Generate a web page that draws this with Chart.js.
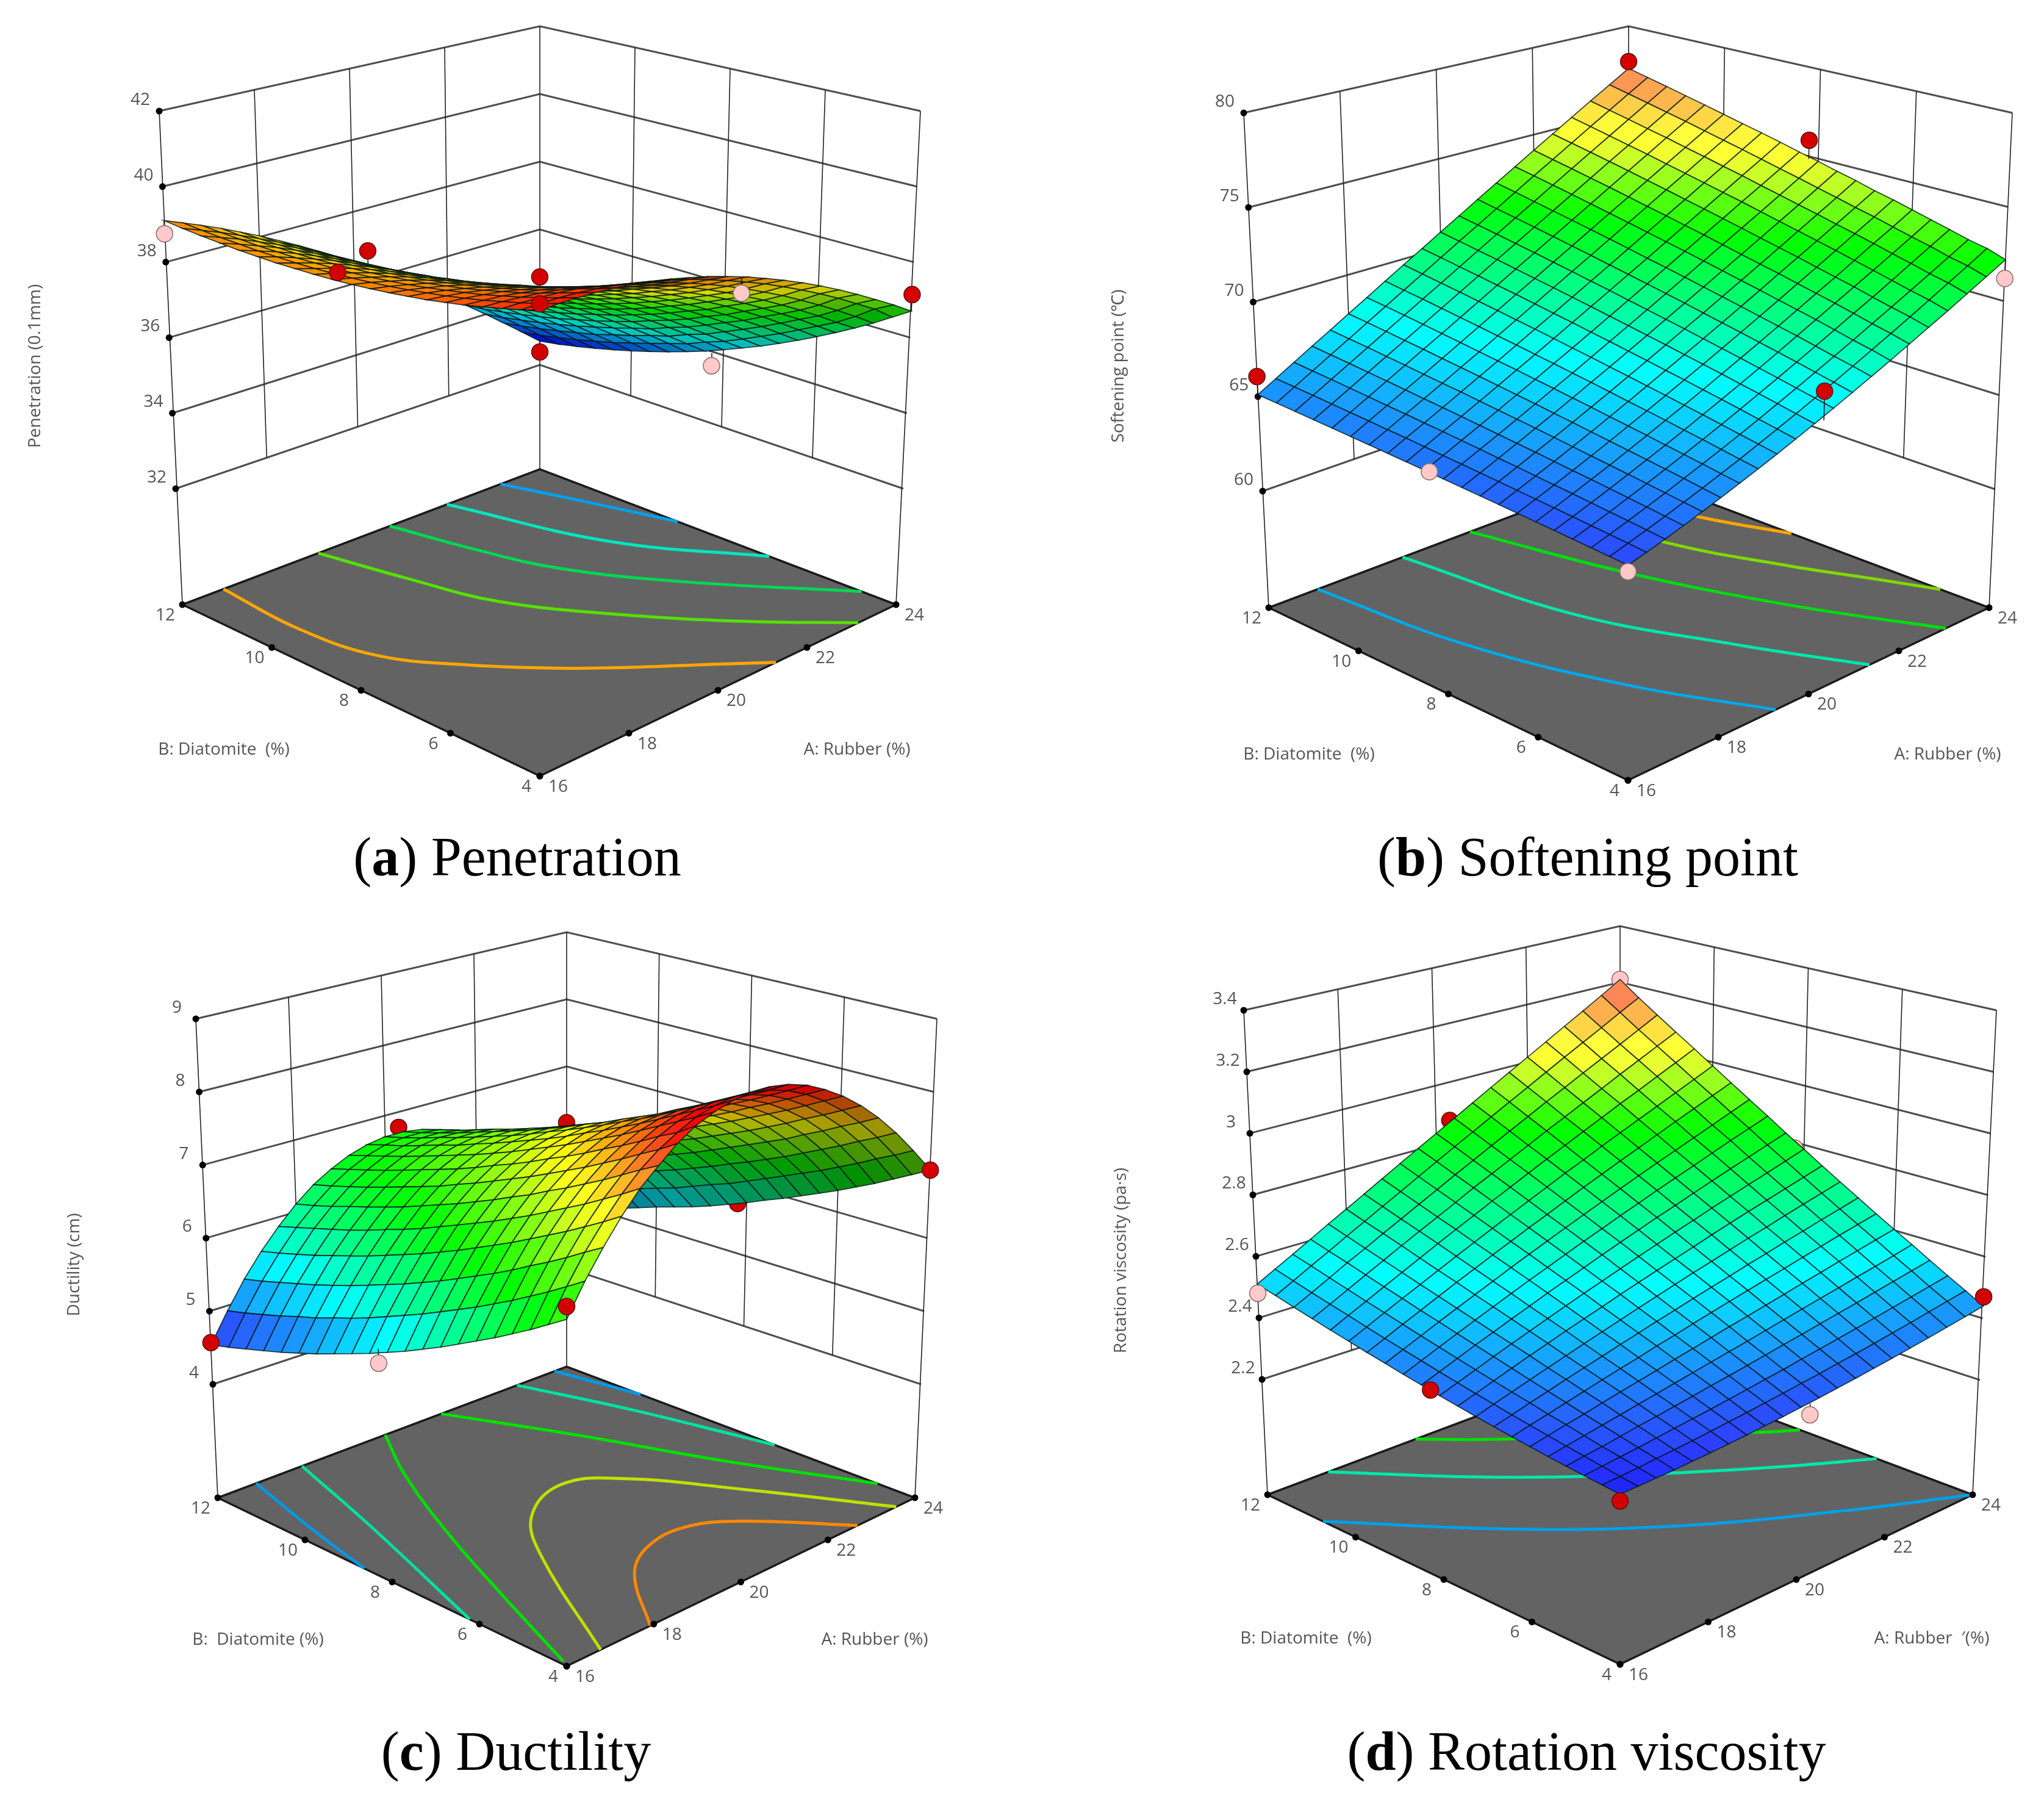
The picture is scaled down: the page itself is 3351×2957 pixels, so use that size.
<!DOCTYPE html>
<html>
<head>
<meta charset="utf-8">
<title>Response surfaces</title>
<script src="https://cdn.jsdelivr.net/npm/chart.js@4/dist/chart.umd.min.js"></script>
<style>
  html, body { margin: 0; background: #fff; }
  #page { position: relative; width: 3351px; height: 2957px; overflow: hidden; background: #fff; }
  canvas { position: absolute; }
  .cap { position: absolute; transform: translate(-50%, -50%); font: 90px "Liberation Serif", serif; color: #000; white-space: nowrap; }
</style>
</head>
<body>
<div id="page">
  <canvas id="pa" width="1675" height="1480" style="left:0;top:0"></canvas>
  <canvas id="pb" width="1676" height="1480" style="left:1675px;top:0"></canvas>
  <canvas id="pc" width="1675" height="1477" style="left:0;top:1480px"></canvas>
  <canvas id="pd" width="1676" height="1477" style="left:1675px;top:1480px"></canvas>
  <div class="cap" style="left:848px;top:1404px">(<b>a</b>) Penetration</div>
  <div class="cap" style="left:2603px;top:1404px">(<b>b</b>) Softening point</div>
  <div class="cap" style="left:846px;top:2870px">(<b>c</b>) Ductility</div>
  <div class="cap" style="left:2601px;top:2870px">(<b>d</b>) Rotation viscosity</div>
</div>
<script>
// axis ticks shared by all four plots
const rubberTicks = [16, 18, 20, 22, 24];
const diatomiteTicks = [4, 6, 8, 10, 12];

const penetrationTicks = [32, 34, 36, 38, 40, 42];
const softeningTicks = [60, 65, 70, 75, 80];
const ductilityTicks = [4, 5, 6, 7, 8, 9];
const viscosityTicks = [2.2, 2.4, 2.6, 2.8, 3, 3.2, 3.4];

// response surfaces, one row per diatomite step (4 to 12), 21 rubber steps (16 to 24) in each row
const penetration = [
  [40.00,40.02,40.01,39.99,39.95,39.89,39.81,39.71,39.59,39.46,39.30,39.13,38.93,38.72,38.49,38.24,37.97,37.68,37.37,37.05,36.70],
  [39.87,39.87,39.86,39.83,39.78,39.71,39.62,39.51,39.39,39.25,39.08,38.90,38.70,38.49,38.25,38.00,37.73,37.44,37.12,36.80,36.40],
  [39.75,39.74,39.72,39.69,39.64,39.53,39.43,39.32,39.18,39.03,38.85,38.66,38.45,38.22,37.97,37.71,37.42,37.12,36.80,36.46,36.10],
  [39.64,39.62,39.58,39.53,39.46,39.37,39.25,39.12,38.99,38.82,38.64,38.44,38.22,37.98,37.72,37.45,37.15,36.84,36.51,36.16,35.82],
  [39.53,39.50,39.46,39.39,39.31,39.21,39.09,38.95,38.81,38.63,38.44,38.23,38.00,37.76,37.50,37.22,36.92,36.60,36.27,35.91,35.55],
  [39.44,39.40,39.34,39.27,39.17,39.07,38.94,38.79,38.64,38.45,38.26,38.04,37.80,37.55,37.28,37.00,36.69,36.37,36.02,35.66,35.29],
  [39.35,39.30,39.24,39.15,39.05,38.93,38.79,38.64,38.47,38.28,38.07,37.84,37.60,37.34,37.06,36.76,36.45,36.12,35.78,35.41,35.04],
  [39.28,39.22,39.14,39.04,38.93,38.80,38.66,38.49,38.31,38.11,37.90,37.67,37.42,37.15,36.87,36.57,36.25,35.91,35.55,35.18,34.80],
  [39.21,39.14,39.05,38.95,38.83,38.69,38.53,38.37,38.17,37.96,37.74,37.50,37.24,36.96,36.67,36.36,36.03,35.69,35.33,34.95,34.57],
  [39.15,39.07,38.97,38.86,38.73,38.58,38.42,38.24,38.04,37.82,37.59,37.34,37.08,36.79,36.49,36.17,35.84,35.48,35.11,34.73,34.36],
  [39.10,39.01,38.90,38.78,38.64,38.48,38.31,38.12,37.91,37.69,37.45,37.19,36.92,36.63,36.32,36.00,35.67,35.31,34.94,34.55,34.15],
  [39.06,38.96,38.84,38.71,38.56,38.39,38.21,38.01,37.80,37.57,37.32,37.05,36.77,36.48,36.16,35.83,35.48,35.11,34.73,34.34,33.95],
  [39.03,38.92,38.79,38.65,38.49,38.31,38.12,37.92,37.69,37.45,37.20,36.93,36.64,36.34,36.02,35.69,35.33,34.97,34.59,34.19,33.77],
  [39.01,38.88,38.75,38.60,38.43,38.24,38.04,37.82,37.59,37.35,37.08,36.80,36.51,36.20,35.88,35.54,35.18,34.81,34.42,34.02,33.60],
  [38.99,38.86,38.72,38.56,38.38,38.19,37.98,37.75,37.52,37.26,36.99,36.71,36.41,36.09,35.76,35.41,35.05,34.67,34.28,33.87,33.44],
  [38.99,38.85,38.69,38.52,38.34,38.13,37.91,37.68,37.44,37.17,36.90,36.61,36.30,35.97,35.64,35.28,34.91,34.53,34.12,33.71,33.29],
  [38.99,38.84,38.68,38.50,38.30,38.09,37.87,37.63,37.37,37.10,36.82,36.52,36.21,35.88,35.53,35.17,34.80,34.41,34.00,33.58,33.15],
  [39.01,38.85,38.67,38.49,38.28,38.06,37.83,37.58,37.31,37.04,36.75,36.44,36.12,35.78,35.43,35.07,34.69,34.29,33.88,33.45,33.02],
  [39.03,38.86,38.68,38.48,38.27,38.04,37.80,37.54,37.27,36.99,36.69,36.38,36.05,35.70,35.35,34.98,34.59,34.19,33.77,33.34,32.90],
  [39.06,38.88,38.69,38.48,38.26,38.03,37.78,37.51,37.23,36.94,36.64,36.32,35.98,35.63,35.27,34.89,34.50,34.09,33.67,33.23,32.79],
  [39.10,38.91,38.71,38.50,38.27,38.03,37.77,37.50,37.21,36.91,36.60,36.27,35.93,35.58,35.21,34.83,34.43,34.02,33.59,33.15,32.70]
];

const softening = [
  [63.50,63.77,64.06,64.37,64.70,65.04,65.40,65.77,66.16,66.57,67.00,67.44,67.90,68.38,68.87,69.39,69.92,70.46,71.03,71.61,72.20],
  [63.58,63.87,64.17,64.49,64.83,65.18,65.55,65.93,66.34,66.76,67.19,67.65,68.12,68.61,69.12,69.64,70.18,70.74,71.32,71.91,72.53],
  [63.66,63.96,64.28,64.61,64.96,65.33,65.71,66.10,66.51,66.94,67.39,67.85,68.33,68.82,69.33,69.86,70.40,70.96,71.53,72.12,72.73],
  [63.74,64.05,64.38,64.73,65.09,65.47,65.86,66.27,66.69,67.13,67.59,68.06,68.55,69.05,69.57,70.11,70.64,71.21,71.80,72.40,73.00],
  [63.82,64.15,64.49,64.85,65.22,65.61,66.01,66.43,66.87,67.32,67.78,68.26,68.76,69.28,69.81,70.35,70.90,71.46,72.04,72.64,73.26],
  [63.90,64.24,64.60,64.97,65.35,65.75,66.17,66.60,67.04,67.50,67.98,68.47,68.97,69.49,70.03,70.58,71.13,71.71,72.31,72.90,73.53],
  [63.98,64.33,64.70,65.08,65.48,65.89,66.32,66.76,67.22,67.69,68.17,68.67,69.18,69.71,70.25,70.81,71.37,71.96,72.56,73.17,73.80],
  [64.06,64.43,64.81,65.20,65.61,66.03,66.47,66.92,67.39,67.87,68.36,68.87,69.39,69.93,70.48,71.05,71.62,72.20,72.80,73.41,74.03],
  [64.14,64.52,64.92,65.33,65.75,66.18,66.63,67.09,67.57,68.06,68.56,69.08,69.60,70.15,70.70,71.27,71.85,72.45,73.06,73.68,74.32],
  [64.22,64.61,65.02,65.44,65.88,66.32,66.78,67.26,67.74,68.24,68.75,69.28,69.82,70.37,70.93,71.50,72.09,72.69,73.30,73.93,74.57],
  [64.30,64.71,65.13,65.56,66.01,66.47,66.94,67.42,67.92,68.43,68.95,69.48,70.03,70.59,71.16,71.74,72.34,72.94,73.56,74.20,74.85],
  [64.38,64.80,65.24,65.68,66.14,66.61,67.09,67.59,68.09,68.61,69.14,69.68,70.24,70.81,71.39,71.98,72.58,73.20,73.81,74.45,75.10],
  [64.46,64.90,65.35,65.80,66.27,66.75,67.25,67.75,68.27,68.80,69.34,69.89,70.45,71.02,71.61,72.21,72.82,73.44,74.08,74.72,75.38],
  [64.54,65.00,65.45,65.92,66.41,66.90,67.40,67.92,68.45,68.98,69.53,70.09,70.66,71.25,71.84,72.45,73.06,73.69,74.33,74.98,75.65],
  [64.62,65.08,65.56,66.04,66.53,67.04,67.55,68.08,68.62,69.17,69.73,70.30,70.88,71.47,72.07,72.68,73.31,73.94,74.59,75.24,75.90],
  [64.70,65.18,65.66,66.16,66.66,67.18,67.71,68.25,68.80,69.36,69.92,70.50,71.09,71.69,72.30,72.92,73.55,74.19,74.84,75.50,76.17],
  [64.78,65.27,65.77,66.28,66.80,67.33,67.86,68.41,68.97,69.54,70.12,70.71,71.30,71.91,72.53,73.16,73.80,74.45,75.11,75.77,76.44],
  [64.86,65.36,65.88,66.40,66.93,67.47,68.02,68.58,69.15,69.73,70.32,70.91,71.52,72.13,72.76,73.39,74.04,74.69,75.35,76.02,76.70],
  [64.94,65.46,65.99,66.52,67.07,67.62,68.18,68.75,69.32,69.91,70.51,71.12,71.73,72.35,72.99,73.63,74.28,74.94,75.61,76.28,76.97],
  [65.02,65.55,66.09,66.64,67.19,67.76,68.33,68.91,69.50,70.10,70.71,71.32,71.94,72.58,73.22,73.86,74.52,75.19,75.86,76.54,77.23],
  [65.10,65.64,66.20,66.76,67.32,67.90,68.48,69.08,69.68,70.28,70.90,71.52,72.16,72.80,73.44,74.10,74.76,75.44,76.12,76.80,77.50]
];

const ductility = [
  [6.76,7.15,7.49,7.80,8.07,8.28,8.48,8.63,8.73,8.80,8.83,8.82,8.77,8.68,8.54,8.37,8.16,7.91,7.62,7.29,6.93],
  [6.61,7.00,7.35,7.65,7.92,8.15,8.33,8.47,8.59,8.66,8.69,8.68,8.63,8.54,8.41,8.24,8.03,7.78,7.49,7.16,6.80],
  [6.46,6.85,7.20,7.51,7.78,8.01,8.20,8.35,8.46,8.53,8.56,8.55,8.50,8.41,8.28,8.11,7.90,7.66,7.37,7.04,6.67],
  [6.32,6.71,7.06,7.37,7.64,7.87,8.06,8.21,8.33,8.40,8.43,8.42,8.37,8.28,8.15,7.98,7.78,7.53,7.24,6.91,6.54],
  [6.18,6.57,6.93,7.24,7.51,7.74,7.93,8.08,8.20,8.27,8.30,8.29,8.24,8.16,8.03,7.86,7.65,7.41,7.12,6.79,6.42],
  [6.05,6.44,6.79,7.11,7.38,7.61,7.80,7.96,8.07,8.14,8.17,8.17,8.12,8.03,7.90,7.74,7.53,7.28,7.00,6.67,6.30],
  [5.92,6.31,6.66,6.98,7.25,7.49,7.68,7.83,7.95,8.02,8.05,8.04,8.00,7.91,7.78,7.62,7.41,7.17,6.88,6.56,6.19],
  [5.79,6.19,6.54,6.86,7.13,7.36,7.56,7.71,7.83,7.90,7.94,7.93,7.88,7.80,7.67,7.51,7.30,7.06,6.77,6.45,6.08],
  [5.67,6.07,6.42,6.74,7.01,7.25,7.44,7.60,7.71,7.79,7.82,7.82,7.77,7.69,7.56,7.40,7.19,6.95,6.66,6.34,5.97],
  [5.55,5.95,6.30,6.62,6.90,7.13,7.33,7.48,7.60,7.67,7.71,7.70,7.66,7.58,7.45,7.29,7.08,6.84,6.56,6.23,5.87],
  [5.44,5.84,6.19,6.51,6.79,7.02,7.22,7.37,7.49,7.56,7.60,7.60,7.55,7.47,7.34,7.18,6.98,6.73,6.45,6.12,5.76],
  [5.33,5.73,6.08,6.40,6.68,6.91,7.11,7.27,7.38,7.46,7.50,7.49,7.45,7.37,7.24,7.08,6.87,6.63,6.35,6.03,5.66],
  [5.23,5.62,5.98,6.30,6.57,6.81,7.01,7.16,7.28,7.36,7.39,7.39,7.35,7.26,7.14,6.98,6.77,6.53,6.25,5.93,5.56],
  [5.13,5.52,5.88,6.20,6.47,6.71,6.90,7.06,7.18,7.26,7.29,7.29,7.25,7.17,7.05,6.88,6.68,6.43,6.16,5.83,5.47],
  [5.03,5.43,5.78,6.10,6.38,6.61,6.81,6.97,7.09,7.17,7.20,7.20,7.16,7.08,6.96,6.80,6.59,6.35,6.07,5.75,5.39],
  [4.94,5.33,5.69,6.01,6.28,6.52,6.72,6.88,7.00,7.07,7.11,7.11,7.07,6.99,6.87,6.71,6.50,6.26,5.98,5.66,5.31],
  [4.85,5.25,5.60,5.92,6.19,6.43,6.63,6.79,6.91,6.99,7.02,7.02,6.99,6.91,6.78,6.62,6.42,6.18,5.90,5.58,5.22],
  [4.77,5.16,5.52,5.83,6.11,6.35,6.54,6.70,6.82,6.90,6.94,6.93,6.90,6.82,6.70,6.54,6.33,6.09,5.82,5.50,5.13],
  [4.69,5.08,5.44,5.75,6.03,6.26,6.46,6.62,6.74,6.81,6.85,6.85,6.81,6.73,6.62,6.46,6.26,6.02,5.74,5.43,5.05],
  [4.61,5.00,5.36,5.67,5.95,6.18,6.38,6.54,6.66,6.74,6.77,6.77,6.74,6.66,6.54,6.39,6.18,5.95,5.67,5.36,4.99],
  [4.54,4.93,5.29,5.60,5.87,6.11,6.31,6.46,6.58,6.66,6.70,6.70,6.66,6.58,6.47,6.31,6.11,5.88,5.61,5.29,4.94]
];

const viscosity = [
  [2.320,2.321,2.323,2.325,2.328,2.331,2.335,2.339,2.344,2.349,2.355,2.361,2.368,2.375,2.383,2.391,2.400,2.409,2.419,2.429,2.440],
  [2.325,2.328,2.332,2.337,2.341,2.346,2.352,2.358,2.364,2.371,2.378,2.386,2.393,2.402,2.410,2.419,2.429,2.439,2.450,2.461,2.472],
  [2.330,2.336,2.342,2.348,2.355,2.362,2.369,2.376,2.384,2.392,2.401,2.409,2.419,2.428,2.438,2.448,2.458,2.469,2.480,2.491,2.503],
  [2.336,2.344,2.351,2.360,2.369,2.377,2.386,2.395,2.405,2.414,2.424,2.434,2.445,2.455,2.466,2.477,2.488,2.500,2.512,2.524,2.536],
  [2.342,2.352,2.362,2.372,2.382,2.393,2.403,2.414,2.425,2.436,2.447,2.458,2.470,2.482,2.494,2.506,2.518,2.531,2.543,2.556,2.570],
  [2.349,2.361,2.373,2.384,2.397,2.409,2.421,2.433,2.446,2.458,2.471,2.484,2.496,2.509,2.522,2.536,2.549,2.563,2.576,2.590,2.603],
  [2.356,2.370,2.383,2.397,2.411,2.425,2.439,2.452,2.467,2.480,2.495,2.509,2.523,2.537,2.551,2.565,2.580,2.594,2.609,2.623,2.637],
  [2.364,2.379,2.395,2.410,2.426,2.441,2.456,2.472,2.487,2.503,2.518,2.534,2.549,2.564,2.580,2.595,2.611,2.626,2.642,2.657,2.673],
  [2.372,2.389,2.406,2.423,2.440,2.457,2.474,2.491,2.508,2.525,2.542,2.559,2.576,2.592,2.609,2.626,2.642,2.659,2.676,2.692,2.709],
  [2.381,2.399,2.418,2.437,2.456,2.474,2.493,2.511,2.529,2.548,2.566,2.584,2.602,2.620,2.639,2.657,2.675,2.692,2.710,2.728,2.746],
  [2.390,2.410,2.430,2.451,2.471,2.491,2.511,2.531,2.551,2.570,2.590,2.610,2.629,2.649,2.668,2.688,2.707,2.726,2.745,2.765,2.785],
  [2.400,2.421,2.443,2.465,2.486,2.508,2.529,2.551,2.572,2.593,2.615,2.636,2.657,2.678,2.698,2.719,2.740,2.761,2.781,2.802,2.823],
  [2.410,2.433,2.456,2.479,2.502,2.525,2.548,2.571,2.593,2.616,2.639,2.661,2.684,2.706,2.729,2.751,2.773,2.796,2.819,2.841,2.864],
  [2.421,2.445,2.469,2.494,2.518,2.542,2.566,2.591,2.615,2.639,2.663,2.687,2.711,2.735,2.759,2.783,2.806,2.830,2.854,2.879,2.904],
  [2.432,2.457,2.483,2.508,2.534,2.560,2.585,2.611,2.636,2.662,2.687,2.713,2.739,2.764,2.790,2.815,2.841,2.867,2.893,2.919,2.945],
  [2.444,2.470,2.497,2.524,2.550,2.577,2.604,2.631,2.658,2.685,2.712,2.739,2.767,2.793,2.821,2.848,2.875,2.902,2.930,2.958,2.987],
  [2.456,2.484,2.511,2.539,2.567,2.595,2.624,2.652,2.680,2.709,2.737,2.766,2.795,2.823,2.852,2.881,2.911,2.939,2.969,2.999,3.030],
  [2.469,2.497,2.526,2.555,2.584,2.614,2.643,2.672,2.702,2.733,2.762,2.792,2.822,2.853,2.883,2.914,2.945,2.977,3.008,3.040,3.072],
  [2.482,2.511,2.541,2.572,2.601,2.632,2.662,2.693,2.724,2.756,2.787,2.819,2.851,2.883,2.916,2.948,2.981,3.014,3.047,3.081,3.116],
  [2.496,2.526,2.557,2.587,2.619,2.650,2.682,2.714,2.747,2.780,2.813,2.846,2.880,2.914,2.948,2.983,3.018,3.053,3.088,3.125,3.161],
  [2.510,2.541,2.572,2.604,2.637,2.669,2.702,2.736,2.770,2.804,2.838,2.873,2.909,2.945,2.981,3.017,3.054,3.092,3.130,3.169,3.210]
];

// floor contours as [rubber, diatomite]
const penetrationContours = [
  { color: '#ffa500', pts: [[16.92,12],[16.8,10.25],[17.05,8.72],[17.86,7.5],[18.83,6.38],[19.6,5.62],[20.62,4.68],[21.3,4]] },
  { color: '#55e000', pts: [[19.04,12],[19.4,10.44],[19.85,8.79],[20.88,7.04],[22.04,5.4],[23.15,4]] },
  { color: '#00d850', pts: [[20.64,12],[20.98,10.46],[21.42,8.98],[22.42,7.18],[24,4.77]] },
  { color: '#00e5c0', pts: [[21.92,12],[22.72,9.12],[24,6.85]] },
  { color: '#00a0f0', pts: [[23.12,12],[23.57,10.51],[24,8.9]] }
];
const softeningContours = [
  { color: '#00a8e8', pts: [[17.09,12],[17.42,9.11],[18.26,6.3],[19.27,4]] },
  { color: '#00e5a8', pts: [[18.98,12],[19.45,8.71],[20.46,6.08],[21.35,4]] },
  { color: '#00dc10', pts: [[20.48,12],[21.16,9.16],[22.05,6.47],[23.04,4]] },
  { color: '#80d800', pts: [[22.08,12],[22.4,9.6],[23.09,7.51],[23.6,6.2],[24,5.08]] },
  { color: '#ffa500', pts: [[22.88,12],[23.12,11.6],[23.5,9.86],[24,8.38]] }
];
const ductilityContours = [
  { color: '#0098e8', pts: [[16.88,12],[16.38,10.26],[16,8.64]] },
  { color: '#00e0a0', pts: [[17.93,12],[17.14,9.58],[16,6.22]] },
  { color: '#00e000', pts: [[19.84,12],[18.98,10.7],[17.92,8.64],[16.96,6.4],[16.08,4.16]] },
  { color: '#c0e000', pts: [[23.57,4],[22.46,6.34],[21.4,8.13],[20.53,8.67],[19.36,8.16],[18.43,7.01],[16.78,4]] },
  { color: '#ff8800', pts: [[22.68,4],[21.6,5.52],[20.8,6.08],[19.84,6],[19,5.44],[17.92,4]] },
  { color: '#00e000', pts: [[21.12,12],[22.08,9.92],[23.02,7.38],[24,4.86]] },
  { color: '#00e0a0', pts: [[22.86,12],[23.44,10],[23.84,8.08],[24,7.22]] },
  { color: '#0098e8', pts: [[23.72,12],[24,10.3]] }
];
const viscosityContours = [
  { color: '#00a0e8', pts: [[16,10.74],[18.14,8.5],[20.1,6.74],[22.24,5.2],[24,4]] },
  { color: '#00e8a8', pts: [[17.38,12],[18.89,10.47],[20.1,9.34],[21.58,8.1],[22.88,7.04],[24,6.18]] },
  { color: '#00e000', pts: [[19.36,12],[20.27,11.18],[22,9.76],[23.58,8.26],[24,7.92]] }
];

// design points [rubber, diatomite, response, kind]; "behind" ones go under the surface
const penetrationBehind = [[20.3,12,36.8,'red'],[20,8,37.82,'red'],[24,12,32.38,'red'],[24,8.25,33.6,'pink']];
const penetrationFront = [[16,12,38.75,'pink'],[16,8.3,39.28,'red'],[16,4,40.16,'red'],[24,4,37.14,'red'],[20.3,4,38.76,'pink']];
const softeningBehind = [];
const softeningFront = [[24,12,77.9,'red'],[24,8.2,75.9,'red'],[16,12,66.06,'red'],[16,8.3,64.4,'pink'],[16,4,63.2,'pink'],[24,4,71.2,'pink'],[20.2,4,68.45,'red']];
const ductilityBehind = [[20,8,7.7,'red'],[20.3,12,6.78,'red'],[24,8.2,5.71,'red']];
const ductilityFront = [[16,12,4.57,'red'],[16,8.2,5.25,'pink'],[16,4,6.92,'red'],[24,4,6.93,'red']];
const viscosityBehind = [[20.3,12,2.87,'red'],[24,12,3.21,'pink'],[24,8.2,2.78,'pink']];
const viscosityFront = [[16,12,2.48,'pink'],[16,8.2,2.396,'red'],[16,4,2.3,'red'],[20.2,4,2.32,'pink'],[24,4,2.47,'red']];

// response values at which the colour map hits blue, cyan, green, yellow, red
const penetrationColors = [32.8, 34.6, 36.5, 38.0, 40.2];
const softeningColors = [62.6, 67.8, 72.1, 74.8, 78.5];
const ductilityColors = [4.5, 5.59, 6.68, 7.65, 8.55];
const viscosityColors = [2.30, 2.56, 2.85, 3.02, 3.24];

const panels = [
  { canvas: 'pa', box: [0, 0, 1675, 1480], surface: penetration, contours: penetrationContours,
    zTicks: penetrationTicks, behind: penetrationBehind, front: penetrationFront, colors: penetrationColors,
    floor: { F: [885,1272], R: [1469,991], L: [299,991], K: [885,769] },
    low:   { F: [885,1061], R: [1481,801], L: [288,801], K: [885,598] },
    high:  { F: [885,371],  R: [1509,182], L: [261,182], K: [885,43] },
    title: { text: 'Penetration (0.1mm)', x: 58, y: 600 },
    bTitle: { text: 'B: Diatomite  (%)', x: 367, y: 1229 }, aTitle: { text: 'A: Rubber (%)', x: 1405, y: 1229 } },
  { canvas: 'pb', box: [1675, 0, 3351, 1480], surface: softening, contours: softeningContours,
    zTicks: softeningTicks, behind: softeningBehind, front: softeningFront, colors: softeningColors,
    floor: { F: [2669,1279], R: [3261,996], L: [2080,996], K: [2669,774] },
    low:   { F: [2669,1050], R: [3271,802], L: [2070,805], K: [2670,595] },
    high:  { F: [2669,344],  R: [3299,185], L: [2039,185], K: [2670,43] },
    title: { text: 'Softening point (\u2103)', x: 1834, y: 600 },
    bTitle: { text: 'B: Diatomite  (%)', x: 2146, y: 1237 }, aTitle: { text: 'A: Rubber (%)', x: 3193, y: 1237 } },
  { canvas: 'pc', box: [0, 1480, 1675, 2957], surface: ductility, contours: ductilityContours,
    zTicks: ductilityTicks, behind: ductilityBehind, front: ductilityFront, colors: ductilityColors,
    floor: { F: [929,2731], R: [1500,2455], L: [357,2455], K: [929,2240] },
    low:   { F: [929,2527], R: [1510,2269], L: [349,2269], K: [929,2078] },
    high:  { F: [929,1867], R: [1536,1670], L: [321,1670], K: [929,1528] },
    title: { text: 'Ductility (cm)', x: 122, y: 2073 },
    bTitle: { text: 'B:  Diatomite (%)', x: 423, y: 2688 }, aTitle: { text: 'A: Rubber (%)', x: 1434, y: 2688 } },
  { canvas: 'pd', box: [1675, 1480, 3351, 2957], surface: viscosity, contours: viscosityContours,
    zTicks: viscosityTicks, behind: viscosityBehind, front: viscosityFront, colors: viscosityColors,
    floor: { F: [2656,2728], R: [3234,2450], L: [2078,2450], K: [2656,2233] },
    low:   { F: [2656,2516], R: [3246,2262], L: [2069,2261], K: [2656,2070] },
    high:  { F: [2656,1848], R: [3273,1656], L: [2039,1656], K: [2656,1518] },
    title: { text: 'Rotation viscosity (pa\u00b7s)', x: 1838, y: 2066 },
    bTitle: { text: 'B: Diatomite  (%)', x: 2141, y: 2686 }, aTitle: { text: 'A: Rubber  \u2032(%)', x: 3167, y: 2686 } }
];

const RED = '#d40000', PINK = '#ffc9c9';

const lerp = (p, q, t) => p + (q - p) * t;
const uOf = a => (a - 16) / 8;
const vOf = b => (b - 4) / 8;

// bilinear on the four corners of one level
function onLevel(c, u, v) {
  const x = lerp(lerp(c.F[0], c.R[0], u), lerp(c.L[0], c.K[0], u), v);
  const y = lerp(lerp(c.F[1], c.R[1], u), lerp(c.L[1], c.K[1], u), v);
  return { x, y };
}

function project(p, a, b, z) {
  const zs = p.zTicks;
  const t = (z - zs[0]) / (zs[zs.length - 1] - zs[0]);
  const lo = onLevel(p.low, uOf(a), vOf(b));
  const hi = onLevel(p.high, uOf(a), vOf(b));
  return { x: lerp(lo.x, hi.x, t), y: lerp(lo.y, hi.y, t) };
}
const onFloor = (p, a, b) => onLevel(p.floor, uOf(a), vOf(b));

function line(pts, color, width, extra) {
  return Object.assign({ data: pts, showLine: true, borderColor: color, borderWidth: width,
    pointRadius: 0, pointHoverRadius: 0, fill: false, tension: 0 }, extra || {});
}

function rainbowPos(stops, z) {
  if (z <= stops[0]) return 0;
  for (let i = 0; i < stops.length - 1; i++) {
    if (z <= stops[i + 1]) return (i + (z - stops[i]) / (stops[i + 1] - stops[i])) / 4;
  }
  return 1;
}

function rainbow(t) {
  const s = t * 4;
  const stops = [[0,0,255],[0,255,255],[0,255,0],[255,255,0],[255,0,0]];
  const i = Math.min(3, Math.floor(s));
  const f = s - i;
  return [0, 1, 2].map(k => lerp(stops[i][k], stops[i + 1][k], f));
}

// light the cell from the viewer: steep cells and the underside go darker,
// cells facing the viewer wash out a little at both ends of the colour map
function cellColor(p, z00, z10, z01, z11) {
  const zs = p.zTicks, zRange = zs[zs.length - 1] - zs[0];
  const h = (p.low.L[1] - p.high.L[1]) / zRange / 0.906;
  const edge = (p.floor.R[0] - p.floor.L[0]) / 2 / 0.707;
  const H = h / edge;
  const zu = (z10 + z11 - z00 - z01) / 2 / 0.05;
  const zv = (z01 + z11 - z00 - z10) / 2 / 0.05;
  const nu = -zu * H, nv = -zv * H;
  const len = Math.sqrt(nu * nu + nv * nv + 1);
  const dot = (-0.64 * nu - 0.64 * nv + 0.42) / len;
  const t = rainbowPos(p.colors, (z00 + z10 + z01 + z11) / 4);
  const base = rainbow(t);
  const facing = Math.max(0, Math.min(1, (dot - 0.3) / 0.3));
  const bright = dot >= 0 ? Math.min(1, 0.55 + dot * 3) : Math.max(0.45, 0.9 + dot * 0.9);
  // the warm end lifts blue more than green, or orange would turn yellow
  const warm = t > 0.5 ? (t - 0.5) / 0.5 * facing : 0;
  const cold = t < 0.25 ? (0.25 - t) / 0.25 * facing : 0;
  const lifted = [base[0] + cold * 55, base[1] + warm * 60 + cold * 30, base[2] + warm * 105];
  const c = lifted.map(v => Math.round(Math.min(255, v) * bright));
  return `rgb(${c[0]},${c[1]},${c[2]})`;
}

function pointSet(p, list) {
  const out = [];
  list.forEach(q => {
    const i = Math.round(uOf(q[0]) * 20), j = Math.round(vOf(q[1]) * 20);
    const onSurface = project(p, q[0], q[1], p.surface[j][i]);
    out.push(line([project(p, q[0], q[1], q[2]), onSurface], '#111', 1.5));
  });
  list.forEach(q => {
    out.push({ data: [project(p, q[0], q[1], q[2])], showLine: false, pointRadius: 13.5, pointHoverRadius: 13.5,
      pointStyle: 'circle', pointBackgroundColor: q[3] === 'red' ? RED : PINK,
      pointBorderColor: q[3] === 'red' ? '#5a1010' : '#8a6a6a', pointBorderWidth: 1.5 });
  });
  return out;
}

function buildDatasets(p) {
  const sets = [];
  const zs = p.zTicks, zTop = zs[zs.length - 1], zBot = zs[0];

  // back walls
  zs.forEach(z => {
    sets.push(line([project(p,16,12,z), project(p,24,12,z), project(p,24,4,z)], '#4d4d4d', 3));
  });
  rubberTicks.slice(1, -1).forEach(a => {
    sets.push(line([project(p,a,12,zBot), project(p,a,12,zTop)], '#222', 1.6));
  });
  diatomiteTicks.slice(1, -1).forEach(b => {
    sets.push(line([project(p,24,b,zBot), project(p,24,b,zTop)], '#222', 1.6));
  });
  [[16,12],[24,12],[24,4]].forEach(c => {
    sets.push(line([onFloor(p,c[0],c[1]), project(p,c[0],c[1],zTop)], '#222', 1.6));
  });

  // floor and its contour lines
  const corner = (a, b) => onFloor(p, a, b);
  sets.push(line([corner(16,4), corner(24,4), corner(24,12), corner(16,12), corner(16,4)], '#1a1a1a', 3.5,
    { fill: 'shape', backgroundColor: '#636363' }));
  p.contours.forEach(c => {
    sets.push(line(c.pts.map(q => corner(q[0], q[1])), c.color, 5, { tension: 0.4 }));
  });

  // tick dots
  const dots = zs.map(z => project(p,16,12,z))
    .concat(diatomiteTicks.map(b => corner(16,b)))
    .concat(rubberTicks.map(a => corner(a,4)));
  sets.push({ data: dots, showLine: false, pointRadius: 5.5, pointHoverRadius: 5.5,
    pointBackgroundColor: '#000', pointBorderWidth: 0 });

  pointSet(p, p.behind).forEach(s => sets.push(s));

  // surface cells, far corner first so nearer cells paint over it
  const S = p.surface, n = S.length - 1, m = S[0].length - 1;
  const ax = i => 16 + 8 * i / m, bx = j => 4 + 8 * j / n;
  for (let j = n - 1; j >= 0; j--) {
    for (let i = m - 1; i >= 0; i--) {
      const poly = [
        project(p, ax(i), bx(j), S[j][i]),
        project(p, ax(i + 1), bx(j), S[j][i + 1]),
        project(p, ax(i + 1), bx(j + 1), S[j + 1][i + 1]),
        project(p, ax(i), bx(j + 1), S[j + 1][i]),
        project(p, ax(i), bx(j), S[j][i])
      ];
      sets.push(line(poly, 'rgba(0,20,20,0.78)', 1.8, {
        fill: 'shape', backgroundColor: cellColor(p, S[j][i], S[j][i + 1], S[j + 1][i], S[j + 1][i + 1]) }));
    }
  }

  pointSet(p, p.front).forEach(s => sets.push(s));
  return sets;
}

// tick labels and axis titles, placed through the chart scales
function labelPlugin(p) {
  const zs = p.zTicks;
  const texts = [];
  zs.forEach(z => {
    const q = project(p, 16, 12, z);
    texts.push({ text: String(z), x: q.x - 31, y: q.y - 18 });
  });
  diatomiteTicks.forEach(b => {
    const q = onFloor(p, 16, b);
    texts.push({ text: String(b), x: q.x - (b === 4 ? 22 : 28), y: q.y + 18 });
  });
  rubberTicks.forEach(a => {
    const q = onFloor(p, a, 4);
    texts.push({ text: String(a), x: q.x + 30, y: q.y + 18 });
  });
  texts.push(p.aTitle, p.bTitle);
  return {
    id: 'labels',
    afterDraw(chart) {
      const { ctx, scales } = chart;
      ctx.save();
      ctx.fillStyle = '#555';
      ctx.font = '28px "Open Sans"';
      ctx.textAlign = 'center';
      ctx.textBaseline = 'middle';
      texts.forEach(t => {
        ctx.fillText(t.text, scales.x.getPixelForValue(t.x), scales.y.getPixelForValue(t.y));
      });
      ctx.translate(scales.x.getPixelForValue(p.title.x), scales.y.getPixelForValue(p.title.y));
      ctx.rotate(-Math.PI / 2);
      ctx.fillText(p.title.text, 0, 0);
      ctx.restore();
    }
  };
}

panels.forEach(p => {
  // Chart.js paints the first dataset last, so hand them over reversed
  const datasets = buildDatasets(p).reverse();
  new Chart(document.getElementById(p.canvas), {
    type: 'scatter',
    data: { datasets },
    options: {
      responsive: false,
      animation: false,
      events: [],
      devicePixelRatio: 1,
      layout: { padding: 0, autoPadding: false },
      plugins: { legend: { display: false }, tooltip: { enabled: false } },
      scales: {
        x: { type: 'linear', display: false, min: p.box[0], max: p.box[2] },
        y: { type: 'linear', display: false, min: p.box[1], max: p.box[3], reverse: true }
      }
    },
    plugins: [labelPlugin(p)]
  });
});
</script>
</body>
</html>
